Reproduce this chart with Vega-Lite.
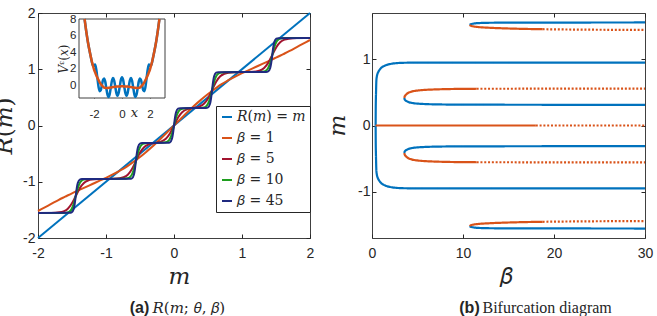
{
 "$schema": "https://vega.github.io/schema/vega-lite/v6.json",
 "background": "white",
 "padding": {"left": -8, "top": 5, "right": 2, "bottom": 2},
 "config": {
  "font": "Liberation Sans",
  "view": {"stroke": "#404040", "strokeWidth": 1},
  "axis": {"grid": false, "domain": false, "labelFlush": false, "tickColor": "#262626", "tickSize": -4, "labelColor": "#262626", "labelFont": "Liberation Sans", "labelFontSize": 14, "titleColor": "#262626", "titleFont": "DejaVu Serif", "titleFontStyle": "normal", "titleFontWeight": "normal", "titleFontSize": 23}
 },
 "spacing": 62,
 "bounds": "flush",
 "resolve": {"scale": {"color": "independent", "strokeDash": "independent"}, "legend": {"color": "independent"}},
 "datasets": {
  "main": [
   {"s":"R(m) = m","m":-2,"R":-2},{"s":"R(m) = m","m":2,"R":2},
   {"s":"β = 1","m":-2,"R":-1.52},{"s":"β = 1","m":-1.9,"R":-1.455},{"s":"β = 1","m":-1.8,"R":-1.39},{"s":"β = 1","m":-1.7,"R":-1.325},{"s":"β = 1","m":-1.6,"R":-1.265},{"s":"β = 1","m":-1.5,"R":-1.205},{"s":"β = 1","m":-1.4,"R":-1.15},{"s":"β = 1","m":-1.3,"R":-1.095},{"s":"β = 1","m":-1.2,"R":-1.04},{"s":"β = 1","m":-1.1,"R":-0.985},{"s":"β = 1","m":-1.0,"R":-0.93},{"s":"β = 1","m":-0.9,"R":-0.87},{"s":"β = 1","m":-0.8,"R":-0.805},{"s":"β = 1","m":-0.7,"R":-0.735},{"s":"β = 1","m":-0.6,"R":-0.65},{"s":"β = 1","m":-0.5,"R":-0.56},{"s":"β = 1","m":-0.4,"R":-0.46},{"s":"β = 1","m":-0.3,"R":-0.355},{"s":"β = 1","m":-0.2,"R":-0.24},{"s":"β = 1","m":-0.1,"R":-0.12},{"s":"β = 1","m":0,"R":0},{"s":"β = 1","m":0.1,"R":0.12},{"s":"β = 1","m":0.2,"R":0.24},{"s":"β = 1","m":0.3,"R":0.355},{"s":"β = 1","m":0.4,"R":0.46},{"s":"β = 1","m":0.5,"R":0.56},{"s":"β = 1","m":0.6,"R":0.65},{"s":"β = 1","m":0.7,"R":0.735},{"s":"β = 1","m":0.8,"R":0.805},{"s":"β = 1","m":0.9,"R":0.87},{"s":"β = 1","m":1.0,"R":0.93},{"s":"β = 1","m":1.1,"R":0.985},{"s":"β = 1","m":1.2,"R":1.04},{"s":"β = 1","m":1.3,"R":1.095},{"s":"β = 1","m":1.4,"R":1.15},{"s":"β = 1","m":1.5,"R":1.205},{"s":"β = 1","m":1.6,"R":1.265},{"s":"β = 1","m":1.7,"R":1.325},{"s":"β = 1","m":1.8,"R":1.39},{"s":"β = 1","m":1.9,"R":1.455},{"s":"β = 1","m":2,"R":1.52},
   {"s":"β = 5","m":-2,"R":-1.555},{"s":"β = 5","m":-1.805,"R":-1.554},{"s":"β = 5","m":-1.685,"R":-1.544},{"s":"β = 5","m":-1.625,"R":-1.527},{"s":"β = 5","m":-1.565,"R":-1.483},{"s":"β = 5","m":-1.505,"R":-1.392},{"s":"β = 5","m":-1.445,"R":-1.253},{"s":"β = 5","m":-1.385,"R":-1.113},{"s":"β = 5","m":-1.325,"R":-1.022},{"s":"β = 5","m":-1.265,"R":-0.978},{"s":"β = 5","m":-1.205,"R":-0.961},{"s":"β = 5","m":-1.085,"R":-0.952},{"s":"β = 5","m":-0.92,"R":-0.948},{"s":"β = 5","m":-0.8,"R":-0.939},{"s":"β = 5","m":-0.74,"R":-0.92},{"s":"β = 5","m":-0.68,"R":-0.874},{"s":"β = 5","m":-0.62,"R":-0.778},{"s":"β = 5","m":-0.56,"R":-0.63},{"s":"β = 5","m":-0.5,"R":-0.482},{"s":"β = 5","m":-0.44,"R":-0.386},{"s":"β = 5","m":-0.38,"R":-0.339},{"s":"β = 5","m":-0.32,"R":-0.319},{"s":"β = 5","m":-0.26,"R":-0.306},{"s":"β = 5","m":-0.2,"R":-0.291},{"s":"β = 5","m":-0.12,"R":-0.236},{"s":"β = 5","m":-0.06,"R":-0.143},{"s":"β = 5","m":0,"R":0},{"s":"β = 5","m":0.06,"R":0.143},{"s":"β = 5","m":0.12,"R":0.236},{"s":"β = 5","m":0.2,"R":0.291},{"s":"β = 5","m":0.26,"R":0.306},{"s":"β = 5","m":0.32,"R":0.319},{"s":"β = 5","m":0.38,"R":0.339},{"s":"β = 5","m":0.44,"R":0.386},{"s":"β = 5","m":0.5,"R":0.482},{"s":"β = 5","m":0.56,"R":0.63},{"s":"β = 5","m":0.62,"R":0.778},{"s":"β = 5","m":0.68,"R":0.874},{"s":"β = 5","m":0.74,"R":0.92},{"s":"β = 5","m":0.8,"R":0.939},{"s":"β = 5","m":0.92,"R":0.948},{"s":"β = 5","m":1.085,"R":0.952},{"s":"β = 5","m":1.205,"R":0.961},{"s":"β = 5","m":1.265,"R":0.978},{"s":"β = 5","m":1.325,"R":1.022},{"s":"β = 5","m":1.385,"R":1.113},{"s":"β = 5","m":1.445,"R":1.253},{"s":"β = 5","m":1.505,"R":1.392},{"s":"β = 5","m":1.565,"R":1.483},{"s":"β = 5","m":1.625,"R":1.527},{"s":"β = 5","m":1.685,"R":1.544},{"s":"β = 5","m":1.805,"R":1.554},{"s":"β = 5","m":2,"R":1.555},
   {"s":"β = 10","m":-2,"R":-1.555},{"s":"β = 10","m":-1.625,"R":-1.554},{"s":"β = 10","m":-1.565,"R":-1.544},{"s":"β = 10","m":-1.535,"R":-1.527},{"s":"β = 10","m":-1.505,"R":-1.483},{"s":"β = 10","m":-1.475,"R":-1.392},{"s":"β = 10","m":-1.445,"R":-1.253},{"s":"β = 10","m":-1.415,"R":-1.113},{"s":"β = 10","m":-1.385,"R":-1.022},{"s":"β = 10","m":-1.355,"R":-0.978},{"s":"β = 10","m":-1.325,"R":-0.961},{"s":"β = 10","m":-1.265,"R":-0.952},{"s":"β = 10","m":-0.74,"R":-0.948},{"s":"β = 10","m":-0.68,"R":-0.939},{"s":"β = 10","m":-0.65,"R":-0.92},{"s":"β = 10","m":-0.62,"R":-0.874},{"s":"β = 10","m":-0.59,"R":-0.778},{"s":"β = 10","m":-0.56,"R":-0.63},{"s":"β = 10","m":-0.53,"R":-0.482},{"s":"β = 10","m":-0.5,"R":-0.386},{"s":"β = 10","m":-0.47,"R":-0.34},{"s":"β = 10","m":-0.44,"R":-0.322},{"s":"β = 10","m":-0.38,"R":-0.312},{"s":"β = 10","m":-0.18,"R":-0.308},{"s":"β = 10","m":-0.12,"R":-0.299},{"s":"β = 10","m":-0.09,"R":-0.281},{"s":"β = 10","m":-0.06,"R":-0.236},{"s":"β = 10","m":-0.03,"R":-0.143},{"s":"β = 10","m":0,"R":0},{"s":"β = 10","m":0.03,"R":0.143},{"s":"β = 10","m":0.06,"R":0.236},{"s":"β = 10","m":0.09,"R":0.281},{"s":"β = 10","m":0.12,"R":0.299},{"s":"β = 10","m":0.18,"R":0.308},{"s":"β = 10","m":0.38,"R":0.312},{"s":"β = 10","m":0.44,"R":0.322},{"s":"β = 10","m":0.47,"R":0.34},{"s":"β = 10","m":0.5,"R":0.386},{"s":"β = 10","m":0.53,"R":0.482},{"s":"β = 10","m":0.56,"R":0.63},{"s":"β = 10","m":0.59,"R":0.778},{"s":"β = 10","m":0.62,"R":0.874},{"s":"β = 10","m":0.65,"R":0.92},{"s":"β = 10","m":0.68,"R":0.939},{"s":"β = 10","m":0.74,"R":0.948},{"s":"β = 10","m":1.265,"R":0.952},{"s":"β = 10","m":1.325,"R":0.961},{"s":"β = 10","m":1.355,"R":0.978},{"s":"β = 10","m":1.385,"R":1.022},{"s":"β = 10","m":1.415,"R":1.113},{"s":"β = 10","m":1.445,"R":1.253},{"s":"β = 10","m":1.475,"R":1.392},{"s":"β = 10","m":1.505,"R":1.483},{"s":"β = 10","m":1.535,"R":1.527},{"s":"β = 10","m":1.565,"R":1.544},{"s":"β = 10","m":1.625,"R":1.554},{"s":"β = 10","m":2,"R":1.555},
   {"s":"β = 45","m":-2,"R":-1.555},{"s":"β = 45","m":-1.535,"R":-1.553},{"s":"β = 45","m":-1.505,"R":-1.544},{"s":"β = 45","m":-1.475,"R":-1.483},{"s":"β = 45","m":-1.46,"R":-1.392},{"s":"β = 45","m":-1.445,"R":-1.253},{"s":"β = 45","m":-1.43,"R":-1.113},{"s":"β = 45","m":-1.415,"R":-1.022},{"s":"β = 45","m":-1.385,"R":-0.961},{"s":"β = 45","m":-1.355,"R":-0.952},{"s":"β = 45","m":-0.65,"R":-0.948},{"s":"β = 45","m":-0.62,"R":-0.939},{"s":"β = 45","m":-0.59,"R":-0.874},{"s":"β = 45","m":-0.575,"R":-0.778},{"s":"β = 45","m":-0.56,"R":-0.63},{"s":"β = 45","m":-0.545,"R":-0.482},{"s":"β = 45","m":-0.53,"R":-0.386},{"s":"β = 45","m":-0.5,"R":-0.322},{"s":"β = 45","m":-0.47,"R":-0.312},{"s":"β = 45","m":-0.09,"R":-0.308},{"s":"β = 45","m":-0.06,"R":-0.299},{"s":"β = 45","m":-0.03,"R":-0.236},{"s":"β = 45","m":-0.015,"R":-0.143},{"s":"β = 45","m":0,"R":0},{"s":"β = 45","m":0.015,"R":0.143},{"s":"β = 45","m":0.03,"R":0.236},{"s":"β = 45","m":0.06,"R":0.299},{"s":"β = 45","m":0.09,"R":0.308},{"s":"β = 45","m":0.47,"R":0.312},{"s":"β = 45","m":0.5,"R":0.322},{"s":"β = 45","m":0.53,"R":0.386},{"s":"β = 45","m":0.545,"R":0.482},{"s":"β = 45","m":0.56,"R":0.63},{"s":"β = 45","m":0.575,"R":0.778},{"s":"β = 45","m":0.59,"R":0.874},{"s":"β = 45","m":0.62,"R":0.939},{"s":"β = 45","m":0.65,"R":0.948},{"s":"β = 45","m":1.355,"R":0.952},{"s":"β = 45","m":1.385,"R":0.961},{"s":"β = 45","m":1.415,"R":1.022},{"s":"β = 45","m":1.43,"R":1.113},{"s":"β = 45","m":1.445,"R":1.253},{"s":"β = 45","m":1.46,"R":1.392},{"s":"β = 45","m":1.475,"R":1.483},{"s":"β = 45","m":1.505,"R":1.544},{"s":"β = 45","m":1.535,"R":1.553},{"s":"β = 45","m":2,"R":1.555}
  ],
  "insetS": [
   {"x":-2.67,"v":8.0},{"x":-2.64,"v":7.6},{"x":-2.56,"v":6.6},{"x":-2.48,"v":5.7},{"x":-2.4,"v":4.9},{"x":-2.32,"v":4.2},{"x":-2.24,"v":3.55},{"x":-2.16,"v":2.95},{"x":-2.08,"v":2.42},{"x":-2.0,"v":1.95},{"x":-1.92,"v":1.58},{"x":-1.84,"v":1.24},{"x":-1.76,"v":0.95},{"x":-1.68,"v":0.68},{"x":-1.6,"v":0.42},{"x":-1.52,"v":0.2},{"x":-1.44,"v":0.02},{"x":-1.36,"v":-0.14},{"x":-1.28,"v":-0.24},{"x":-1.2,"v":-0.28},{"x":-1.12,"v":-0.3},{"x":-1.04,"v":-0.3},{"x":-0.96,"v":-0.28},{"x":-0.88,"v":-0.26},{"x":-0.8,"v":-0.24},{"x":-0.72,"v":-0.21},{"x":-0.64,"v":-0.19},{"x":-0.56,"v":-0.17},{"x":-0.48,"v":-0.15},{"x":-0.4,"v":-0.13},{"x":-0.32,"v":-0.12},{"x":-0.24,"v":-0.11},{"x":-0.16,"v":-0.11},{"x":-0.08,"v":-0.1},{"x":0,"v":-0.1},{"x":0.08,"v":-0.1},{"x":0.16,"v":-0.11},{"x":0.24,"v":-0.11},{"x":0.32,"v":-0.12},{"x":0.4,"v":-0.13},{"x":0.48,"v":-0.15},{"x":0.56,"v":-0.17},{"x":0.64,"v":-0.19},{"x":0.72,"v":-0.21},{"x":0.8,"v":-0.24},{"x":0.88,"v":-0.26},{"x":0.96,"v":-0.28},{"x":1.04,"v":-0.3},{"x":1.12,"v":-0.3},{"x":1.2,"v":-0.28},{"x":1.28,"v":-0.24},{"x":1.36,"v":-0.14},{"x":1.44,"v":0.02},{"x":1.52,"v":0.2},{"x":1.6,"v":0.42},{"x":1.68,"v":0.68},{"x":1.76,"v":0.95},{"x":1.84,"v":1.24},{"x":1.92,"v":1.58},{"x":2.0,"v":1.95},{"x":2.08,"v":2.42},{"x":2.16,"v":2.95},{"x":2.24,"v":3.55},{"x":2.32,"v":4.2},{"x":2.4,"v":4.9},{"x":2.48,"v":5.7},{"x":2.56,"v":6.6},{"x":2.64,"v":7.6},{"x":2.67,"v":8.0}
  ],
  "insetV": [
   {"x":-2.67,"v":8.0},{"x":-2.64,"v":7.6},{"x":-2.56,"v":6.6},{"x":-2.48,"v":5.7},{"x":-2.4,"v":4.9},{"x":-2.32,"v":4.2},{"x":-2.24,"v":3.55},{"x":-2.16,"v":2.88},{"x":-2.08,"v":2.42},{"x":-2.0,"v":2.37},{"x":-1.92,"v":2.53},{"x":-1.84,"v":1.95},{"x":-1.76,"v":0.95},{"x":-1.68,"v":-0.1},{"x":-1.6,"v":-0.68},{"x":-1.52,"v":-0.58},{"x":-1.44,"v":0.02},{"x":-1.36,"v":0.64},{"x":-1.28,"v":0.86},{"x":-1.2,"v":0.5},{"x":-1.12,"v":-0.3},{"x":-1.04,"v":-1.08},{"x":-0.96,"v":-1.38},{"x":-0.88,"v":-1.04},{"x":-0.8,"v":-0.24},{"x":-0.72,"v":0.57},{"x":-0.64,"v":0.91},{"x":-0.56,"v":0.61},{"x":-0.48,"v":-0.15},{"x":-0.4,"v":-0.91},{"x":-0.32,"v":-1.22},{"x":-0.24,"v":-0.89},{"x":-0.16,"v":-0.11},{"x":-0.08,"v":0.68},{"x":0,"v":1.0},{"x":0.08,"v":0.68},{"x":0.16,"v":-0.11},{"x":0.24,"v":-0.89},{"x":0.32,"v":-1.22},{"x":0.4,"v":-0.91},{"x":0.48,"v":-0.15},{"x":0.56,"v":0.61},{"x":0.64,"v":0.91},{"x":0.72,"v":0.57},{"x":0.8,"v":-0.24},{"x":0.88,"v":-1.04},{"x":0.96,"v":-1.38},{"x":1.04,"v":-1.08},{"x":1.12,"v":-0.3},{"x":1.2,"v":0.5},{"x":1.28,"v":0.86},{"x":1.36,"v":0.64},{"x":1.44,"v":0.02},{"x":1.52,"v":-0.58},{"x":1.6,"v":-0.68},{"x":1.68,"v":-0.1},{"x":1.76,"v":0.95},{"x":1.84,"v":1.95},{"x":1.92,"v":2.53},{"x":2.0,"v":2.37},{"x":2.08,"v":2.42},{"x":2.16,"v":2.88},{"x":2.24,"v":3.55},{"x":2.32,"v":4.2},{"x":2.4,"v":4.9},{"x":2.48,"v":5.7},{"x":2.56,"v":6.6},{"x":2.64,"v":7.6},{"x":2.67,"v":8.0}
  ],
  "bif": [
   {"b":"C+","s":"st","d":"solid","beta":0.4,"m":0},{"b":"C+","s":"st","d":"solid","beta":0.41,"m":0.24},{"b":"C+","s":"st","d":"solid","beta":0.43,"m":0.42},{"b":"C+","s":"st","d":"solid","beta":0.45,"m":0.54},{"b":"C+","s":"st","d":"solid","beta":0.476,"m":0.67},{"b":"C+","s":"st","d":"solid","beta":0.53,"m":0.74},{"b":"C+","s":"st","d":"solid","beta":0.6,"m":0.78},{"b":"C+","s":"st","d":"solid","beta":0.66,"m":0.8},{"b":"C+","s":"st","d":"solid","beta":0.8,"m":0.835},{"b":"C+","s":"st","d":"solid","beta":1.03,"m":0.874},{"b":"C+","s":"st","d":"solid","beta":1.3,"m":0.897},{"b":"C+","s":"st","d":"solid","beta":1.58,"m":0.914},{"b":"C+","s":"st","d":"solid","beta":2.0,"m":0.929},{"b":"C+","s":"st","d":"solid","beta":2.49,"m":0.94},{"b":"C+","s":"st","d":"solid","beta":3.6,"m":0.948},{"b":"C+","s":"st","d":"solid","beta":5,"m":0.95},{"b":"C+","s":"st","d":"solid","beta":30,"m":0.951},
   {"b":"C-","s":"st","d":"solid","beta":0.4,"m":0},{"b":"C-","s":"st","d":"solid","beta":0.41,"m":-0.24},{"b":"C-","s":"st","d":"solid","beta":0.43,"m":-0.42},{"b":"C-","s":"st","d":"solid","beta":0.45,"m":-0.54},{"b":"C-","s":"st","d":"solid","beta":0.476,"m":-0.67},{"b":"C-","s":"st","d":"solid","beta":0.53,"m":-0.74},{"b":"C-","s":"st","d":"solid","beta":0.6,"m":-0.78},{"b":"C-","s":"st","d":"solid","beta":0.66,"m":-0.8},{"b":"C-","s":"st","d":"solid","beta":0.8,"m":-0.835},{"b":"C-","s":"st","d":"solid","beta":1.03,"m":-0.874},{"b":"C-","s":"st","d":"solid","beta":1.3,"m":-0.897},{"b":"C-","s":"st","d":"solid","beta":1.58,"m":-0.914},{"b":"C-","s":"st","d":"solid","beta":2.0,"m":-0.929},{"b":"C-","s":"st","d":"solid","beta":2.49,"m":-0.94},{"b":"C-","s":"st","d":"solid","beta":3.6,"m":-0.948},{"b":"C-","s":"st","d":"solid","beta":5,"m":-0.95},{"b":"C-","s":"st","d":"solid","beta":30,"m":-0.951},
   {"b":"Z","s":"un","d":"solid","beta":0.4,"m":0},{"b":"Z","s":"un","d":"solid","beta":18,"m":0},
   {"b":"Zd","s":"un","d":"dot","beta":18,"m":0},{"b":"Zd","s":"un","d":"dot","beta":30,"m":0},
   {"b":"S1u+","s":"un","d":"solid","beta":3.55,"m":0.415},{"b":"S1u+","s":"un","d":"solid","beta":3.58,"m":0.435},{"b":"S1u+","s":"un","d":"solid","beta":3.65,"m":0.452},{"b":"S1u+","s":"un","d":"solid","beta":3.8,"m":0.475},{"b":"S1u+","s":"un","d":"solid","beta":4.0,"m":0.495},{"b":"S1u+","s":"un","d":"solid","beta":4.35,"m":0.512},{"b":"S1u+","s":"un","d":"solid","beta":5.1,"m":0.53},{"b":"S1u+","s":"un","d":"solid","beta":6.05,"m":0.54},{"b":"S1u+","s":"un","d":"solid","beta":6.9,"m":0.545},{"b":"S1u+","s":"un","d":"solid","beta":8.55,"m":0.551},{"b":"S1u+","s":"un","d":"solid","beta":11.5,"m":0.555},
   {"b":"S1u+d","s":"un","d":"dot","beta":11.5,"m":0.555},{"b":"S1u+d","s":"un","d":"dot","beta":30,"m":0.558},
   {"b":"S1s+","s":"st","d":"solid","beta":3.55,"m":0.415},{"b":"S1s+","s":"st","d":"solid","beta":3.58,"m":0.397},{"b":"S1s+","s":"st","d":"solid","beta":3.65,"m":0.383},{"b":"S1s+","s":"st","d":"solid","beta":3.8,"m":0.368},{"b":"S1s+","s":"st","d":"solid","beta":4.0,"m":0.355},{"b":"S1s+","s":"st","d":"solid","beta":4.35,"m":0.342},{"b":"S1s+","s":"st","d":"solid","beta":5.1,"m":0.33},{"b":"S1s+","s":"st","d":"solid","beta":6.05,"m":0.323},{"b":"S1s+","s":"st","d":"solid","beta":7.55,"m":0.318},{"b":"S1s+","s":"st","d":"solid","beta":10.55,"m":0.315},{"b":"S1s+","s":"st","d":"solid","beta":30,"m":0.312},
   {"b":"S1u-","s":"un","d":"solid","beta":3.55,"m":-0.415},{"b":"S1u-","s":"un","d":"solid","beta":3.58,"m":-0.435},{"b":"S1u-","s":"un","d":"solid","beta":3.65,"m":-0.452},{"b":"S1u-","s":"un","d":"solid","beta":3.8,"m":-0.475},{"b":"S1u-","s":"un","d":"solid","beta":4.0,"m":-0.495},{"b":"S1u-","s":"un","d":"solid","beta":4.35,"m":-0.512},{"b":"S1u-","s":"un","d":"solid","beta":5.1,"m":-0.53},{"b":"S1u-","s":"un","d":"solid","beta":6.05,"m":-0.54},{"b":"S1u-","s":"un","d":"solid","beta":6.9,"m":-0.545},{"b":"S1u-","s":"un","d":"solid","beta":8.55,"m":-0.551},{"b":"S1u-","s":"un","d":"solid","beta":11.5,"m":-0.555},
   {"b":"S1u-d","s":"un","d":"dot","beta":11.5,"m":-0.555},{"b":"S1u-d","s":"un","d":"dot","beta":30,"m":-0.558},
   {"b":"S1s-","s":"st","d":"solid","beta":3.55,"m":-0.415},{"b":"S1s-","s":"st","d":"solid","beta":3.58,"m":-0.397},{"b":"S1s-","s":"st","d":"solid","beta":3.65,"m":-0.383},{"b":"S1s-","s":"st","d":"solid","beta":3.8,"m":-0.368},{"b":"S1s-","s":"st","d":"solid","beta":4.0,"m":-0.355},{"b":"S1s-","s":"st","d":"solid","beta":4.35,"m":-0.342},{"b":"S1s-","s":"st","d":"solid","beta":5.1,"m":-0.33},{"b":"S1s-","s":"st","d":"solid","beta":6.05,"m":-0.323},{"b":"S1s-","s":"st","d":"solid","beta":7.55,"m":-0.318},{"b":"S1s-","s":"st","d":"solid","beta":10.55,"m":-0.315},{"b":"S1s-","s":"st","d":"solid","beta":30,"m":-0.312},
   {"b":"S2s+","s":"st","d":"solid","beta":10.75,"m":1.52},{"b":"S2s+","s":"st","d":"solid","beta":10.8,"m":1.527},{"b":"S2s+","s":"st","d":"solid","beta":10.95,"m":1.534},{"b":"S2s+","s":"st","d":"solid","beta":11.25,"m":1.542},{"b":"S2s+","s":"st","d":"solid","beta":11.75,"m":1.548},{"b":"S2s+","s":"st","d":"solid","beta":12.75,"m":1.552},{"b":"S2s+","s":"st","d":"solid","beta":14.75,"m":1.554},{"b":"S2s+","s":"st","d":"solid","beta":18.75,"m":1.555},{"b":"S2s+","s":"st","d":"solid","beta":30,"m":1.557},
   {"b":"S2u+","s":"un","d":"solid","beta":10.75,"m":1.52},{"b":"S2u+","s":"un","d":"solid","beta":10.8,"m":1.512},{"b":"S2u+","s":"un","d":"solid","beta":10.95,"m":1.504},{"b":"S2u+","s":"un","d":"solid","beta":11.25,"m":1.495},{"b":"S2u+","s":"un","d":"solid","beta":11.75,"m":1.487},{"b":"S2u+","s":"un","d":"solid","beta":12.75,"m":1.478},{"b":"S2u+","s":"un","d":"solid","beta":14.75,"m":1.467},{"b":"S2u+","s":"un","d":"solid","beta":17.75,"m":1.457},{"b":"S2u+","s":"un","d":"solid","beta":18.75,"m":1.455},
   {"b":"S2u+d","s":"un","d":"dot","beta":18.75,"m":1.455},{"b":"S2u+d","s":"un","d":"dot","beta":22,"m":1.45},{"b":"S2u+d","s":"un","d":"dot","beta":30,"m":1.444},
   {"b":"S2s-","s":"st","d":"solid","beta":10.75,"m":-1.52},{"b":"S2s-","s":"st","d":"solid","beta":10.8,"m":-1.527},{"b":"S2s-","s":"st","d":"solid","beta":10.95,"m":-1.534},{"b":"S2s-","s":"st","d":"solid","beta":11.25,"m":-1.542},{"b":"S2s-","s":"st","d":"solid","beta":11.75,"m":-1.548},{"b":"S2s-","s":"st","d":"solid","beta":12.75,"m":-1.552},{"b":"S2s-","s":"st","d":"solid","beta":14.75,"m":-1.554},{"b":"S2s-","s":"st","d":"solid","beta":18.75,"m":-1.555},{"b":"S2s-","s":"st","d":"solid","beta":30,"m":-1.557},
   {"b":"S2u-","s":"un","d":"solid","beta":10.75,"m":-1.52},{"b":"S2u-","s":"un","d":"solid","beta":10.8,"m":-1.512},{"b":"S2u-","s":"un","d":"solid","beta":10.95,"m":-1.504},{"b":"S2u-","s":"un","d":"solid","beta":11.25,"m":-1.495},{"b":"S2u-","s":"un","d":"solid","beta":11.75,"m":-1.487},{"b":"S2u-","s":"un","d":"solid","beta":12.75,"m":-1.478},{"b":"S2u-","s":"un","d":"solid","beta":14.75,"m":-1.467},{"b":"S2u-","s":"un","d":"solid","beta":17.75,"m":-1.457},{"b":"S2u-","s":"un","d":"solid","beta":18.75,"m":-1.455},
   {"b":"S2u-d","s":"un","d":"dot","beta":18.75,"m":-1.455},{"b":"S2u-d","s":"un","d":"dot","beta":22,"m":-1.45},{"b":"S2u-d","s":"un","d":"dot","beta":30,"m":-1.444}
  ]
 },
 "hconcat": [
  {
   "width": 272, "height": 225,
   "resolve": {"scale": {"x": "independent", "y": "independent"}, "axis": {"x": "independent", "y": "independent"}},
   "layer": [
    {
     "data": {"name": "main"},
     "mark": {"type": "line", "interpolate": "monotone", "strokeWidth": 2},
     "encoding": {
      "x": {"field": "m", "type": "quantitative", "scale": {"domain": [-2, 2], "nice": false, "zero": false},
            "axis": {"orient": "bottom", "values": [-2, -1, 0, 1, 2], "labelPadding": 12, "labelExpr": "replace(datum.label, '−', '-')", "title": "𝑚", "titleX": 141, "titleY": 45, "titleAngle": 0, "titleBaseline": "alphabetic", "titleAlign": "center"}},
      "y": {"field": "R", "type": "quantitative", "scale": {"domain": [-2, 2], "nice": false, "zero": false},
            "axis": {"orient": "left", "values": [-2, -1, 0, 1, 2], "labelPadding": 7, "labelExpr": "replace(datum.label, '−', '-')", "title": "𝑅(𝑚)", "titleX": -27, "titleY": 112.5, "titleAngle": 270, "titleBaseline": "alphabetic", "titleAlign": "center"}},
      "color": {"field": "s", "type": "nominal",
                "scale": {"domain": ["R(m) = m", "β = 1", "β = 5", "β = 10", "β = 45"], "range": ["#0072BD", "#D95319", "#A2142F", "#1E9E1E", "#1F2A80"]},
                "legend": {"orient": "none", "legendX": 178, "legendY": 93, "title": null, "fillColor": "white", "strokeColor": "#262626", "padding": 4, "symbolType": "stroke", "symbolSize": 100, "symbolStrokeWidth": 2, "labelFont": "DejaVu Serif", "labelFontSize": 14, "labelColor": "#262626", "labelOffset": 3, "rowPadding": 7, "labelLimit": 200,
                           "labelExpr": "datum.label == 'R(m) = m' ? '𝑅(𝑚) = 𝑚' : replace(datum.label, 'β', '𝛽')"}}
     }
    },
    {
     "data": {"name": "main"},
     "mark": {"type": "point", "opacity": 0},
     "encoding": {
      "x": {"field": "m", "type": "quantitative", "scale": {"domain": [-2, 2], "nice": false, "zero": false},
            "axis": {"orient": "top", "values": [-2, -1, 0, 1, 2], "labels": false, "title": "(a)", "titleX": 101, "titleY": 299, "titleAngle": 0, "titleAlign": "center", "titleBaseline": "alphabetic", "titleFont": "Liberation Sans", "titleFontStyle": "normal", "titleFontWeight": "bold", "titleFontSize": 16}},
      "y": {"field": "R", "type": "quantitative", "scale": {"domain": [-2, 2], "nice": false, "zero": false},
            "axis": {"orient": "right", "values": [-2, -1, 0, 1, 2], "labels": false, "title": "𝑅(𝑚; 𝜃, 𝛽)", "titleX": -158, "titleY": 299, "titleAngle": 0, "titleAlign": "left", "titleBaseline": "alphabetic", "titleFontSize": 15}}
     }
    },
    {
     "layer": [
      {
       "data": {"values": [{}]},
       "mark": {"type": "rect", "fill": "white", "stroke": "#404040", "strokeWidth": 1},
       "encoding": {
        "x": {"datum": -3.07, "type": "quantitative", "scale": {"domain": [-3.07, 3.07], "range": [41, 127], "nice": false, "zero": false},
              "axis": {"orient": "bottom", "offset": -140, "values": [-2, 0, 2], "tickSize": -3, "labelPadding": 13, "labelFontSize": 11.5, "labelExpr": "replace(datum.label, '−', '-')", "title": "𝑥", "titleFontSize": 13, "titleX": 96, "titleY": 18, "titleAngle": 0, "titleAlign": "center", "titleBaseline": "alphabetic"}},
        "x2": {"datum": 3.07},
        "y": {"datum": -1.5, "type": "quantitative", "scale": {"domain": [-1.5, 8], "range": [85, 6], "nice": false, "zero": false},
              "axis": {"orient": "left", "offset": -41, "values": [0, 2, 4, 6, 8], "tickSize": -3, "labelPadding": 6, "labelFontSize": 11.5, "title": "𝑉ᵋ(𝑥)", "titleFontSize": 12, "titleX": -12, "titleY": 45.5, "titleAngle": 270, "titleAlign": "center", "titleBaseline": "alphabetic"}},
        "y2": {"datum": 8}
       }
      },
      {
       "data": {"name": "insetV"},
       "mark": {"type": "line", "interpolate": "monotone", "color": "#0072BD", "strokeWidth": 2.5},
       "encoding": {
        "x": {"field": "x", "type": "quantitative", "title": "𝑥", "scale": {"domain": [-3.07, 3.07], "range": [41, 127], "nice": false, "zero": false}},
        "y": {"field": "v", "type": "quantitative", "title": "𝑉ᵋ(𝑥)", "scale": {"domain": [-1.5, 8], "range": [85, 6], "nice": false, "zero": false}}
       }
      },
      {
       "data": {"name": "insetS"},
       "mark": {"type": "line", "interpolate": "monotone", "color": "#D95319", "strokeWidth": 2.5},
       "encoding": {
        "x": {"field": "x", "type": "quantitative", "title": "𝑥", "scale": {"domain": [-3.07, 3.07], "range": [41, 127], "nice": false, "zero": false}},
        "y": {"field": "v", "type": "quantitative", "title": "𝑉ᵋ(𝑥)", "scale": {"domain": [-1.5, 8], "range": [85, 6], "nice": false, "zero": false}}
       }
      }
     ]
    }
   ]
  },
  {
   "width": 273, "height": 225,
   "resolve": {"axis": {"x": "independent", "y": "independent"}},
   "layer": [
    {
     "data": {"name": "bif"},
     "mark": {"type": "line", "interpolate": "monotone", "strokeWidth": 2.2},
     "encoding": {
      "x": {"field": "beta", "type": "quantitative", "scale": {"domain": [0, 30], "nice": false, "zero": false},
            "axis": {"orient": "bottom", "values": [0, 10, 20, 30], "labelPadding": 12, "title": "𝛽", "titleX": 134, "titleY": 45, "titleAngle": 0, "titleAlign": "center", "titleBaseline": "alphabetic"}},
      "y": {"field": "m", "type": "quantitative", "scale": {"domain": [-1.7, 1.7], "nice": false, "zero": false},
            "axis": {"orient": "left", "values": [-1, 0, 1], "labelPadding": 6, "labelExpr": "replace(datum.label, '−', '-')", "title": "𝑚", "titleX": -28, "titleY": 112, "titleAngle": 270, "titleAlign": "center", "titleBaseline": "alphabetic"}},
      "color": {"field": "s", "type": "nominal", "scale": {"domain": ["st", "un"], "range": ["#0072BD", "#D95319"]}, "legend": null},
      "strokeDash": {"field": "d", "type": "nominal", "scale": {"domain": ["solid", "dot"], "range": [[1, 0], [2, 1.8]]}, "legend": null},
      "detail": {"field": "b", "type": "nominal"}
     }
    },
    {
     "data": {"name": "bif"},
     "mark": {"type": "point", "opacity": 0},
     "encoding": {
      "x": {"field": "beta", "type": "quantitative",
            "axis": {"orient": "top", "values": [0, 10, 20, 30], "labels": false, "title": "(b)", "titleX": 97, "titleY": 299, "titleAngle": 0, "titleAlign": "center", "titleBaseline": "alphabetic", "titleFont": "Liberation Sans", "titleFontStyle": "normal", "titleFontWeight": "bold", "titleFontSize": 16}},
      "y": {"field": "m", "type": "quantitative",
            "axis": {"orient": "right", "values": [-1, 0, 1], "labels": false, "title": "Bifurcation diagram", "titleX": -163, "titleY": 299, "titleAngle": 0, "titleAlign": "left", "titleBaseline": "alphabetic", "titleFont": "Liberation Serif", "titleFontStyle": "normal", "titleFontSize": 16}}
     }
    }
   ]
  }
 ]
}
